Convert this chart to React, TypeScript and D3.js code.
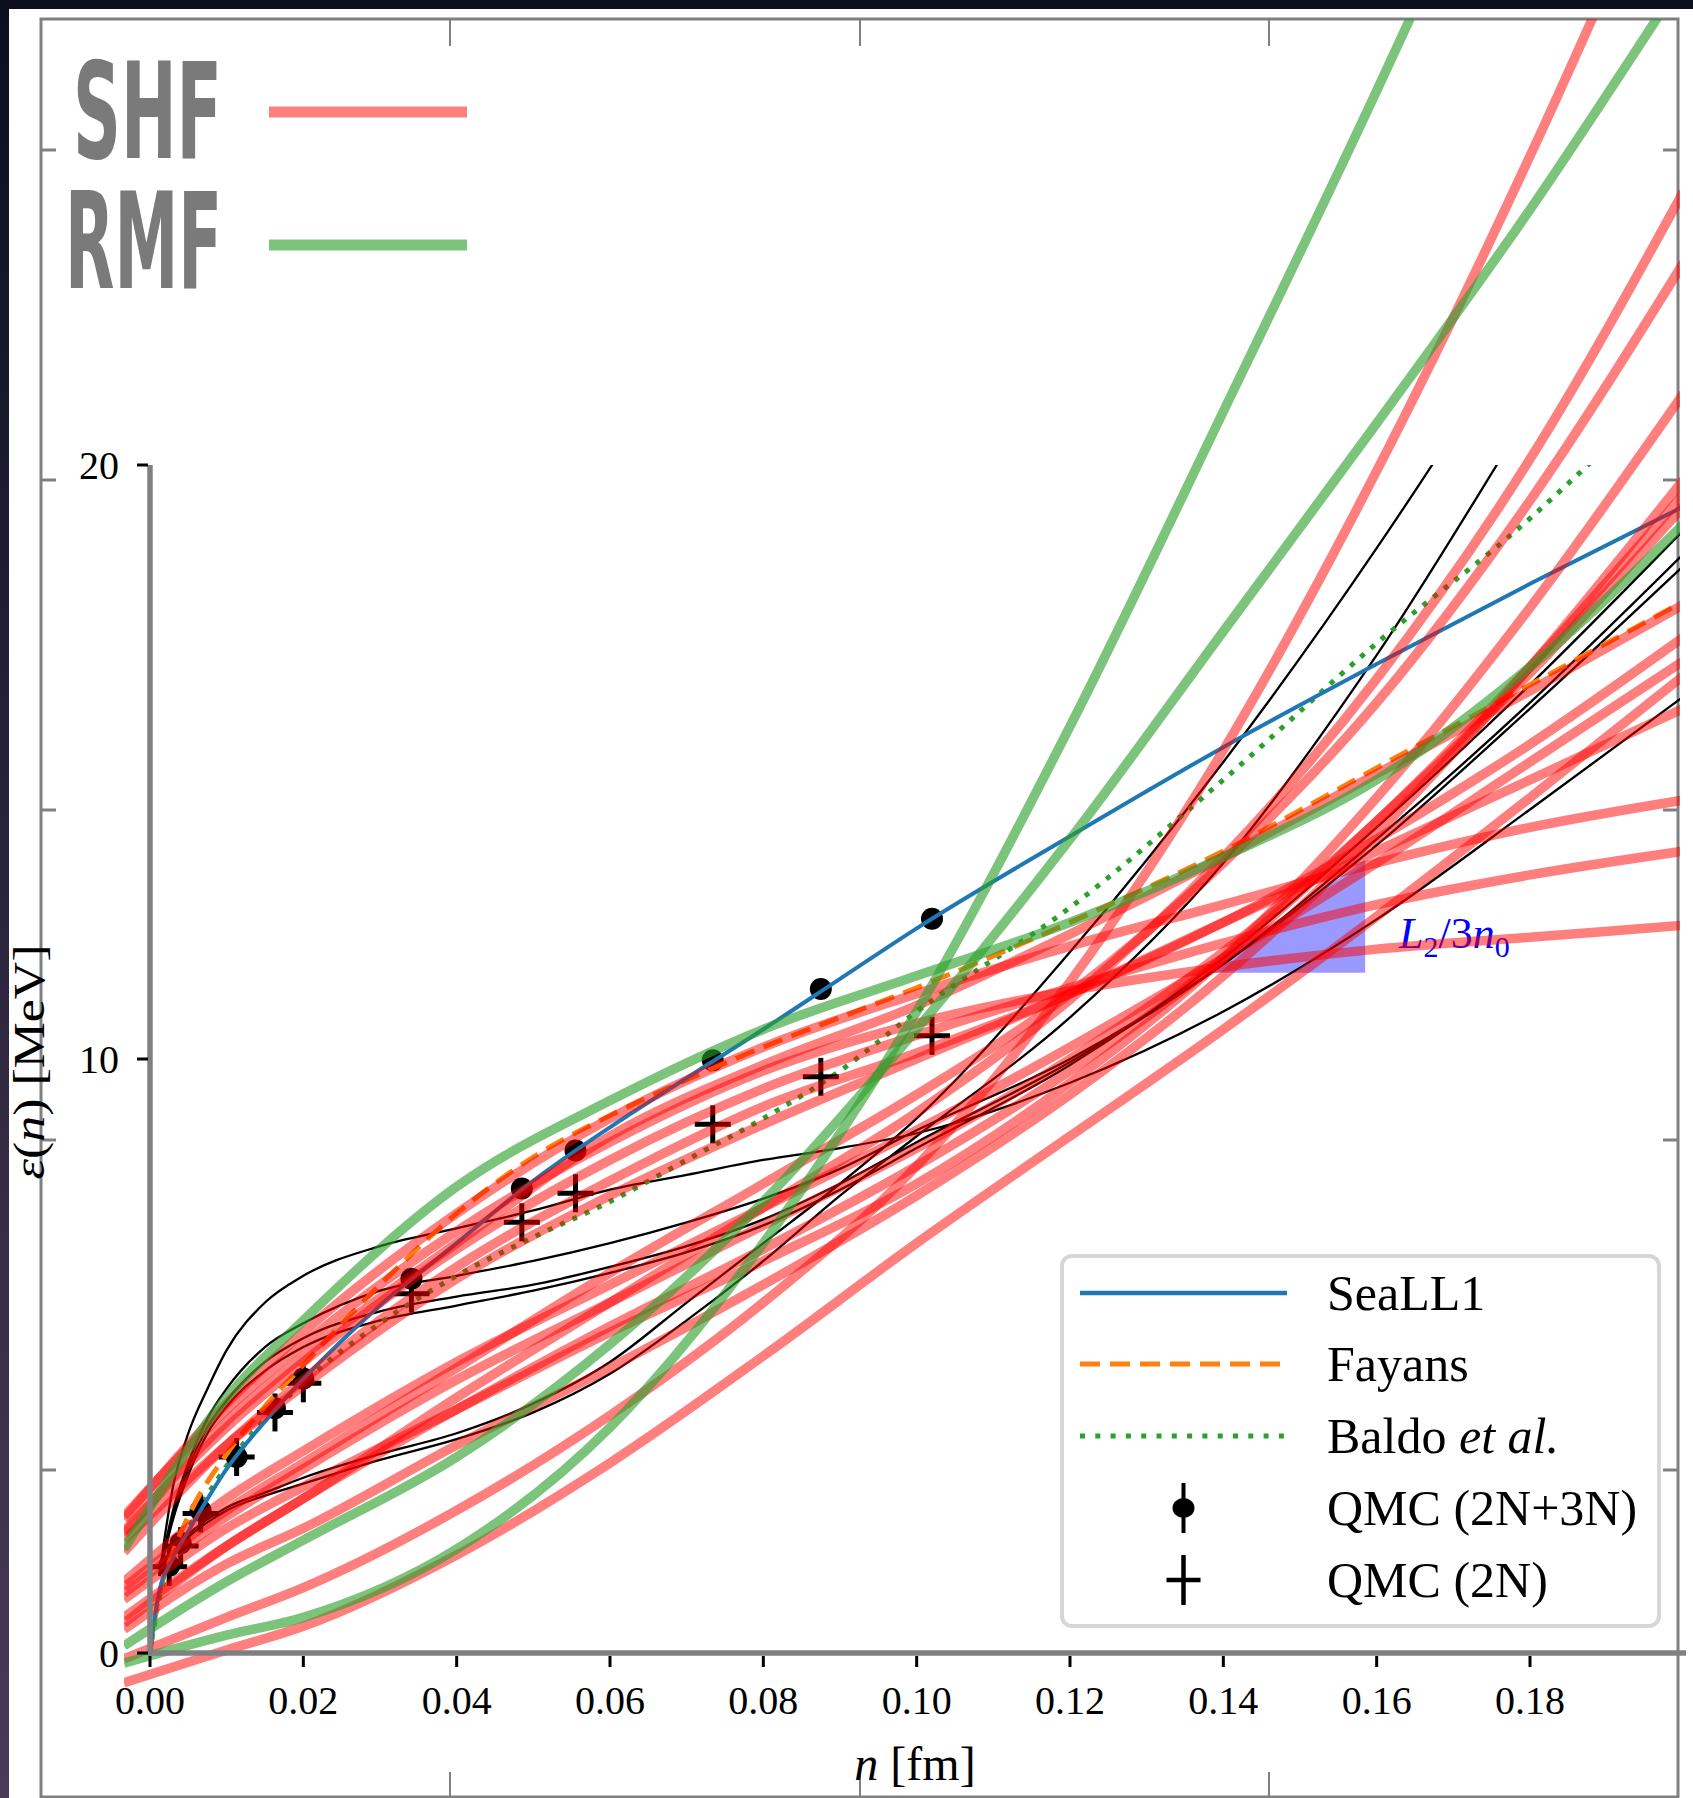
import React from 'react';
import * as d3 from 'd3';

const W = 1693;
const H = 1798;

// ---- axes ----
const xTicks = [0, 0.02, 0.04, 0.06, 0.08, 0.1, 0.12, 0.14, 0.16, 0.18];
const yTicks = [0, 10, 20];

// ---- SHF (red) and RMF (green) functionals, sampled on nGrid ----
const nGrid = [-0.0034, 0.01, 0.02, 0.04, 0.06, 0.08, 0.1, 0.12, 0.14, 0.16, 0.18, 0.2];

const shf01 = [2.3, 4.1, 5.2, 7.1, 8.6, 9.8, 10.6, 11.15, 11.55, 11.85, 12.05, 12.25];
const shf02 = [2.05, 3.8, 4.9, 6.8, 8.3, 9.5, 10.4, 11.2, 11.95, 12.6, 13.1, 13.5];
const shf03 = [2.25, 4.2, 5.4, 7.4, 9.0, 10.2, 11.1, 11.9, 12.6, 13.3, 13.9, 14.36];
const shf04 = [1.9, 3.5, 4.5, 6.3, 7.7, 8.9, 10.0, 11.1, 12.3, 13.5, 14.7, 15.9];
const shf05 = [2.0, 3.9, 5.0, 6.9, 8.7, 9.9, 10.9, 12.1, 13.4, 14.8, 16.2, 17.65];
const shf06 = [1.2, 2.6, 3.4, 4.9, 6.2, 7.5, 8.8, 10.2, 11.7, 13.3, 15.0, 16.7];
const shf07 = [1.0, 2.3, 3.1, 4.6, 5.9, 7.2, 8.5, 10.0, 11.8, 14.0, 16.5, 19.3];
const shf08 = [0.6, 1.8, 2.6, 4.1, 5.5, 6.8, 8.2, 9.8, 11.7, 14.0, 16.6, 19.5];
const shf09 = [0.4, 1.5, 2.1, 3.5, 4.8, 6.2, 7.7, 9.4, 11.4, 13.8, 16.6, 19.75];
const shf10 = [1.1, 2.4, 3.2, 4.8, 6.4, 7.9, 9.4, 11.1, 13.3, 16.0, 19.4, 23.4];
const shf11 = [0.5, 1.8, 2.6, 4.3, 5.9, 7.5, 9.1, 11.0, 13.4, 16.4, 20.1, 24.6];
const shf12 = [-0.5, 0.05, 0.45, 1.65, 3.2, 5.0, 6.9, 8.7, 10.5, 12.4, 14.4, 16.45];
const shf13 = [-0.1, 0.6, 1.1, 2.4, 4.0, 5.9, 8.2, 11.3, 15.2, 19.9, 25.2, 31.0];
const shf14 = [1.7, 3.5, 4.6, 6.5, 7.95, 9.2, 10.1, 11.1, 12.3, 13.7, 15.3, 17.1];
const shf15 = [0.9, 2.1, 2.8, 4.1, 5.4, 6.6, 7.9, 9.6, 11.7, 14.4, 17.6, 21.2];
const shfLines = [shf01, shf02, shf03, shf04, shf05, shf06, shf07, shf08, shf09, shf10, shf11, shf12, shf13, shf14, shf15];

const rmfTop = [1.75, 4.3, 5.6, 7.85, 9.3, 10.5, 11.4, 12.3, 13.4, 14.7, 16.6, 19.0];
const rmfLow = [-0.17, 0.3, 0.6, 1.75, 3.8, 6.9, 10.8, 15.6, 20.9, 26.3, 32.0, 38.0];
const rmfMid = [0.12, 1.2, 1.9, 3.3, 5.2, 7.6, 10.5, 13.7, 17.2, 20.7, 24.3, 28.2];
const rmfLines = [rmfTop, rmfLow, rmfMid];

// ---- thin black curves ----
const bGrid = [0.0012, 0.003, 0.005, 0.0075, 0.01, 0.015, 0.02, 0.03, 0.04, 0.05, 0.06, 0.07, 0.08, 0.09, 0.1, 0.12, 0.14, 0.16, 0.18, 0.2];
const fitU1 = [1.3, 2.8, 3.7, 4.45, 5.1, 5.9, 6.35, 6.85, 7.15, 7.45, 7.8, 8.05, 8.3, 8.5, 8.75, 9.6, 10.8, 12.35, 14.2, 16.1];
const fitU2 = [1.3, 2.4, 3.2, 3.95, 4.45, 5.15, 5.55, 6.1, 6.35, 6.6, 6.9, 7.25, 7.65, 8.15, 8.8, 10.0, 11.6, 13.6, 15.9, 18.3];
const fitU3 = [1.3, 2.3, 3.1, 3.8, 4.25, 4.9, 5.3, 5.75, 6.0, 6.2, 6.5, 6.85, 7.3, 7.9, 8.6, 9.95, 11.6, 13.7, 16.0, 18.5];
const fitU4 = [1.3, 2.25, 3.0, 3.7, 4.15, 4.75, 5.15, 5.6, 5.85, 6.1, 6.4, 6.75, 7.2, 7.8, 8.5, 9.9, 11.7, 13.9, 16.3, 18.9];
const fitL1 = [1.3, 1.7, 2.0, 2.25, 2.45, 2.7, 2.95, 3.35, 3.7, 4.2, 4.9, 5.9, 6.9, 7.9, 9.0, 11.8, 15.0, 18.6, 22.6, 27.0];
const fitL2 = [1.3, 1.65, 1.95, 2.2, 2.4, 2.65, 2.85, 3.25, 3.6, 4.05, 4.7, 5.6, 6.6, 7.7, 8.7, 10.7, 13.3, 16.8, 20.9, 25.0];
const fitLines = [fitU1, fitU2, fitU3, fitU4, fitL1, fitL2];

// ---- named models ----
const modelN = [0, 0.001, 0.003, 0.005, 0.01, 0.015, 0.02, 0.03, 0.04, 0.05, 0.06, 0.07, 0.08, 0.09, 0.1, 0.12, 0.14, 0.16, 0.18, 0.2];
const seall1 = [0, 0.9, 1.6, 2.05, 3.1, 3.9, 4.61, 5.85, 6.9, 7.95, 8.85, 9.68, 10.5, 11.35, 12.2, 13.75, 15.25, 16.65, 18.0, 19.3];
const fayans = [0, 0.85, 1.7, 2.3, 3.35, 4.15, 4.85, 6.2, 7.4, 8.35, 9.05, 9.65, 10.2, 10.7, 11.2, 12.3, 13.5, 14.9, 16.3, 17.7];
const baldoN = [0, 0.001, 0.0025, 0.005, 0.01, 0.02, 0.03, 0.04, 0.05, 0.06, 0.07, 0.08, 0.09, 0.1, 0.12, 0.14, 0.16, 0.18, 0.19];
const baldo = [0, 0.8, 1.45, 2.1, 3.15, 4.55, 5.55, 6.35, 7.0, 7.6, 8.3, 9.0, 9.8, 10.8, 12.55, 14.7, 17.0, 19.1, 20.3];

// ---- QMC points ----
const qmcN = [0.0025, 0.004, 0.0066, 0.0113, 0.0163, 0.02, 0.0341, 0.0485, 0.0555, 0.0734, 0.0875, 0.102];
const qmc3N = [1.47, 1.85, 2.4, 3.3, 4.12, 4.62, 6.3, 7.82, 8.46, 9.98, 11.18, 12.36];
const qmc2N = [1.45, 1.8, 2.35, 3.3, 4.05, 4.54, 6.05, 7.25, 7.74, 8.9, 9.7, 10.39];

// ---- L2/3n0 band ----
const bandN = [0.1374, 0.1585];
const bandTop = [11.45, 13.35];
const bandBase = 11.45;

// ---- legend ----
const legendItems = ['SeaLL1', 'Fayans', 'Baldo', 'QMC (2N+3N)', 'QMC (2N)'];

// ---- outer frame ticks ----
const frameXTicks = [450, 860, 1269];
const frameYTicks = [150, 480, 810, 1140, 1470];

const RED = '#ff0000';
const GREEN = '#2ca02c';

export default function App() {
  const x = d3.scaleLinear().domain([0, 0.18]).range([150, 1530]);
  const y = d3.scaleLinear().domain([0, 20]).range([1653, 465]);
  const line = d3
    .line<[number, number]>()
    .x((d) => x(d[0]))
    .y((d) => y(d[1]))
    .curve(d3.curveMonotoneX);
  const pts = (ns: number[], es: number[]) => ns.map((n, i) => [n, es[i]] as [number, number]);
  const area = d3
    .area<[number, number]>()
    .x((d) => x(d[0]))
    .y0(() => y(bandBase))
    .y1((d) => y(d[1]));

  const serif = "'Liberation Serif', 'Times New Roman', serif";
  const narrow = "'Liberation Sans Narrow', 'DejaVu Sans Condensed', 'Liberation Sans', sans-serif";
  const legX0 = 1080;
  const legX1 = 1287;
  const legMid = (legX0 + legX1) / 2;
  const legRows = [1293, 1364, 1436, 1508, 1580];

  return (
    <svg
      width={W}
      height={H}
      viewBox={`0 0 ${W} ${H}`}
      style={{ position: 'absolute', left: 0, top: 0, display: 'block' }}
    >
      <defs>
        <linearGradient id="leftStrip" x1="0" y1="0" x2="0" y2="1">
          <stop offset="0" stopColor="#0b0f1f" />
          <stop offset="1" stopColor="#4a3a58" />
        </linearGradient>
        <clipPath id="plotClip">
          <rect x={124} y={19} width={1556} height={1673} />
        </clipPath>
        <clipPath id="curveClip">
          <rect x={124} y={y(20)} width={1556} height={1692 - y(20)} />
        </clipPath>
      </defs>

      <rect x={0} y={0} width={W} height={H} fill="#0b0f1f" />
      <rect x={0} y={0} width={9} height={H} fill="url(#leftStrip)" />
      <rect x={9} y={9} width={W - 9} height={H - 9} fill="#ffffff" />

      {/* outer frame */}
      <rect x={41} y={19} width={1637} height={1778} fill="none" stroke="#808080" strokeWidth={3} />
      {frameXTicks.map((t) => (
        <g key={'fx' + t}>
          <line x1={t} x2={t} y1={19} y2={46} stroke="#808080" strokeWidth={2} />
          <line x1={t} x2={t} y1={1797} y2={1772} stroke="#808080" strokeWidth={2} />
        </g>
      ))}
      {frameYTicks.map((t) => (
        <g key={'fy' + t}>
          <line x1={41} x2={56} y1={t} y2={t} stroke="#808080" strokeWidth={3} />
          <line x1={1678} x2={1663} y1={t} y2={t} stroke="#808080" strokeWidth={3} />
        </g>
      ))}

      {/* SHF / RMF legend */}
      <text x={73} y={158} fontFamily={narrow} fontWeight="bold" fontSize={134} fill="#7a7a7a" textLength={149} lengthAdjust="spacingAndGlyphs">
        SHF
      </text>
      <text x={65} y={288} fontFamily={narrow} fontWeight="bold" fontSize={134} fill="#7a7a7a" textLength={157} lengthAdjust="spacingAndGlyphs">
        RMF
      </text>
      <line x1={269} x2={467} y1={112} y2={112} stroke={RED} strokeOpacity={0.5} strokeWidth={11} />
      <line x1={269} x2={467} y1={245} y2={245} stroke={GREEN} strokeOpacity={0.62} strokeWidth={11} />

      {/* plot content */}
      <g clipPath="url(#plotClip)">
        <path d={area(pts(bandN, bandTop)) || ''} fill="#0000ff" fillOpacity={0.4} />
        <text x={1399} y={948} fill="#0000ff" fontFamily={serif} fontSize={44}>
          <tspan fontStyle="italic">L</tspan>
          <tspan fontSize={30} dy={9}>2</tspan>
          <tspan dy={-9}>/3</tspan>
          <tspan fontStyle="italic">n</tspan>
          <tspan fontSize={30} dy={9}>0</tspan>
        </text>

        <g clipPath="url(#curveClip)">
          {fitLines.map((f, i) => (
            <path key={'fit' + i} d={line(pts(bGrid, f)) || ''} fill="none" stroke="#000" strokeWidth={2.3} />
          ))}
          <path
            d={line(pts(baldoN, baldo)) || ''}
            fill="none"
            stroke="#2ca02c"
            strokeWidth={5}
            strokeDasharray="5 8.5"
          />
        </g>

        {qmcN.map((n, i) => (
          <circle key={'q3' + i} cx={x(n)} cy={y(qmc3N[i])} r={11} fill="#000" />
        ))}
        {qmcN.map((n, i) => (
          <g key={'q2' + i} stroke="#000" strokeWidth={5}>
            <line x1={x(n) - 18} x2={x(n) + 18} y1={y(qmc2N[i])} y2={y(qmc2N[i])} />
            <line x1={x(n)} x2={x(n)} y1={y(qmc2N[i]) - 19} y2={y(qmc2N[i]) + 19} />
          </g>
        ))}

        <path
          d={line(pts(modelN, fayans)) || ''}
          fill="none"
          stroke="#ff7f0e"
          strokeWidth={5}
          strokeDasharray="20 10"
        />
        <path d={line(pts(modelN, seall1)) || ''} fill="none" stroke="#1f77b4" strokeWidth={4} />

        {shfLines.map((s, i) => (
          <path
            key={'shf' + i}
            d={line(pts(nGrid, s)) || ''}
            fill="none"
            stroke={RED}
            strokeOpacity={0.5}
            strokeWidth={9.5}
          />
        ))}
        {rmfLines.map((s, i) => (
          <path
            key={'rmf' + i}
            d={line(pts(nGrid, s)) || ''}
            fill="none"
            stroke={GREEN}
            strokeOpacity={0.62}
            strokeWidth={9.5}
          />
        ))}
      </g>

      {/* inner spines */}
      <line x1={150} x2={150} y1={y(20)} y2={y(0)} stroke="#808080" strokeWidth={5.5} />
      <line x1={147} x2={1686} y1={y(0)} y2={y(0)} stroke="#808080" strokeWidth={5.5} />
      {yTicks.map((t) => (
        <g key={'yt' + t}>
          <line x1={137} x2={148} y1={y(t)} y2={y(t)} stroke="#000" strokeWidth={3} />
          <text x={119} y={y(t) + 14} textAnchor="end" fontFamily={serif} fontSize={40} fill="#000">
            {t}
          </text>
        </g>
      ))}
      {xTicks.map((t) => (
        <g key={'xt' + t}>
          <line x1={x(t)} x2={x(t)} y1={y(0) + 3} y2={y(0) + 14} stroke="#000" strokeWidth={3} />
          <text x={x(t)} y={1714} textAnchor="middle" fontFamily={serif} fontSize={40} fill="#000">
            {t.toFixed(2)}
          </text>
        </g>
      ))}
      <text x={915} y={1780} textAnchor="middle" fontFamily={serif} fontSize={48} fill="#000">
        <tspan fontStyle="italic">n</tspan> [fm]
      </text>
      <text
        transform={`translate(44, 1062) rotate(-90)`}
        textAnchor="middle"
        fontFamily={serif}
        fontSize={44}
        fill="#000"
        textLength={235}
        lengthAdjust="spacingAndGlyphs"
      >
        <tspan fontStyle="italic">ε</tspan>(<tspan fontStyle="italic">n</tspan>) [MeV]
      </text>

      {/* inner legend */}
      <rect x={1062} y={1256} width={597} height={370} rx={10} ry={10} fill="#ffffff" fillOpacity={0.85} stroke="#d6d6d6" strokeWidth={4} />
      <line x1={legX0} x2={legX1} y1={legRows[0]} y2={legRows[0]} stroke="#1f77b4" strokeWidth={4.5} />
      <line x1={legX0} x2={legX1} y1={legRows[1]} y2={legRows[1]} stroke="#ff7f0e" strokeWidth={5} strokeDasharray="20 10" />
      <line x1={legX0} x2={legX1} y1={legRows[2]} y2={legRows[2]} stroke="#2ca02c" strokeWidth={5} strokeDasharray="5 10.3" />
      <line x1={legMid} x2={legMid} y1={legRows[3] - 25} y2={legRows[3] + 25} stroke="#000" strokeWidth={4} />
      <ellipse cx={legMid} cy={legRows[3]} rx={11} ry={10} fill="#000" />
      <line x1={legMid - 17} x2={legMid + 17} y1={legRows[4]} y2={legRows[4]} stroke="#000" strokeWidth={4.5} />
      <line x1={legMid} x2={legMid} y1={legRows[4] - 25} y2={legRows[4] + 25} stroke="#000" strokeWidth={4.5} />
      {legendItems.map((label, i) => (
        <text key={label} x={1327} y={legRows[i] + 17} fontFamily={serif} fontSize={50} fill="#000">
          {label === 'Baldo' ? (
            <>
              Baldo <tspan fontStyle="italic">et al.</tspan>
            </>
          ) : (
            label
          )}
        </text>
      ))}
    </svg>
  );
}
